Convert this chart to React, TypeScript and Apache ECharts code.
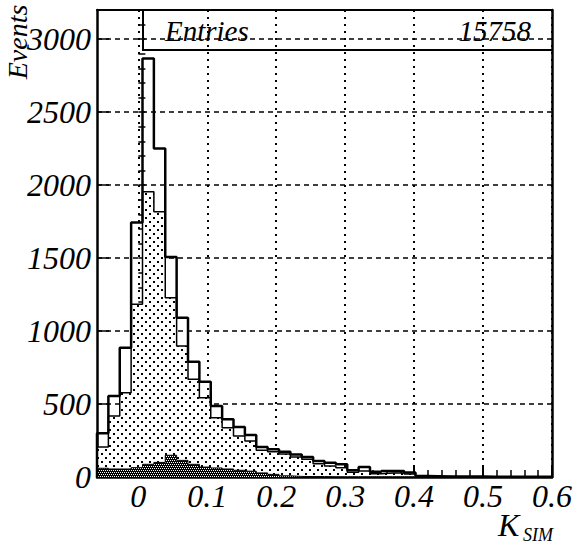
import React, { useEffect, useRef } from "react";
import * as echarts from "echarts";

// ---- data ----
const binStart = -0.06;
const binWidth = 0.0165;
const xMin = -0.06;
const xMax = 0.6;
const yMax = 3200;
const entries = 15758;

const xTickValues = [0, 0.1, 0.2, 0.3, 0.4, 0.5, 0.6];
const yTickValues = [0, 500, 1000, 1500, 2000, 2500, 3000];

// all events (open histogram)
const allEvents = [
  300, 555, 886, 1744, 2868, 2251, 1507, 1091, 790, 653,
  486, 395, 342, 288, 205, 190, 173, 155, 137, 110,
  98, 87, 46, 68, 36, 41, 41, 30, 6, 5,
  4, 4, 3, 3, 2, 2, 2, 1, 1, 1,
];
// selected events (dotted histogram)
const selectedEvents = [
  205, 418, 577, 1183, 1954, 1817, 1228, 897, 669, 543,
  406, 338, 281, 247, 183, 173, 157, 137, 121, 91,
  75, 64, 32, 41, 23, 27, 27, 21, 4, 3,
  3, 2, 2, 2, 1, 1, 1, 1, 0, 0,
];
// background (dark hatched histogram)
const backgroundEvents = [
  60, 55, 55, 64, 87, 100, 149, 114, 87, 68,
  62, 55, 46, 40, 28, 18, 8, 4, 3, 3,
  2, 2, 2, 2, 2, 2, 2, 2, 0, 0,
  0, 0, 0, 0, 0, 0, 0, 0, 0, 0,
];

const FONT = "Liberation Serif";

function stepData(vals: number[]) {
  const pts: number[][] = [[binStart, 0]];
  vals.forEach((v, i) => pts.push([binStart + i * binWidth, v]));
  const end = binStart + vals.length * binWidth;
  pts.push([end, vals[vals.length - 1]]);
  pts.push([end, 0]);
  return pts;
}

function makeDots() {
  const c = document.createElement("canvas");
  c.width = 8;
  c.height = 8;
  const ctx = c.getContext("2d")!;
  ctx.fillStyle = "#ffffff";
  ctx.fillRect(0, 0, 8, 8);
  ctx.fillStyle = "#000000";
  ctx.fillRect(1, 1, 2, 2);
  ctx.fillRect(5, 5, 2, 2);
  return c;
}

function makeHatch() {
  const c = document.createElement("canvas");
  c.width = 4;
  c.height = 4;
  const ctx = c.getContext("2d")!;
  ctx.fillStyle = "#000000";
  ctx.fillRect(0, 0, 4, 4);
  ctx.fillStyle = "#ffffff";
  ctx.fillRect(0, 0, 1, 1);
  ctx.fillRect(2, 0, 1, 1);
  ctx.fillRect(1, 2, 1, 1);
  ctx.fillRect(3, 2, 1, 1);
  return c;
}

const axisFont = {
  fontFamily: FONT,
  fontStyle: "italic",
  fontWeight: "normal",
  fontSize: 32,
  color: "#000",
};

export default function App() {
  const ref = useRef<HTMLDivElement>(null);

  useEffect(() => {
    document.body.style.margin = "0";
    if (!ref.current) return;
    const chart = echarts.init(ref.current, undefined, { renderer: "svg" });
    const dots = makeDots();
    const hatch = makeHatch();

    const option: any = {
      animation: false,
      backgroundColor: "#ffffff",
      textStyle: { fontFamily: FONT, fontStyle: "italic" },
      grid: { left: 97, right: 23, top: 10, bottom: 69 },
      xAxis: [
        {
          type: "value",
          min: xMin,
          max: xMax,
          position: "bottom",
          axisLine: { show: true, onZero: false, lineStyle: { color: "#000", width: 2.5 } },
          axisTick: {
            show: true,
            inside: true,
            length: 12,
            customValues: xTickValues,
            lineStyle: { color: "#000", width: 2 },
          },
          axisLabel: {
            show: true,
            customValues: xTickValues,
            margin: 3,
            ...axisFont,
            formatter: (v: number) => String(Math.round(v * 10) / 10),
          },
          splitLine: {
            show: true,
            lineStyle: { color: "#000", width: 2, type: [2, 5] },
          },
        },
        {
          type: "value",
          min: xMin,
          max: xMax,
          interval: 0.02,
          position: "bottom",
          axisLine: { show: false },
          axisTick: { show: true, inside: true, length: 7, lineStyle: { color: "#000", width: 1.5 } },
          axisLabel: { show: false },
          splitLine: { show: false },
        },
        {
          type: "value",
          min: xMin,
          max: xMax,
          position: "top",
          axisLine: { show: true, onZero: false, lineStyle: { color: "#000", width: 2 } },
          axisTick: { show: false },
          axisLabel: { show: false },
          splitLine: { show: false },
        },
      ],
      yAxis: [
        {
          type: "value",
          min: 0,
          max: yMax,
          interval: 500,
          position: "left",
          axisLine: { show: true, onZero: false, lineStyle: { color: "#000", width: 2.5 } },
          axisTick: { show: true, inside: true, length: 12, lineStyle: { color: "#000", width: 1.5 } },
          axisLabel: {
            show: true,
            showMaxLabel: false,
            margin: 6,
            ...axisFont,
            formatter: (v: number) => (yTickValues.includes(v) ? String(v) : ""),
          },
          splitLine: {
            show: true,
            lineStyle: { color: "#000", width: 1.5, type: [5, 4] },
          },
        },
        {
          type: "value",
          min: 0,
          max: yMax,
          interval: 100,
          position: "left",
          axisLine: { show: false },
          axisTick: { show: true, inside: true, length: 7, lineStyle: { color: "#000", width: 1.5 } },
          axisLabel: { show: false },
          splitLine: { show: false },
        },
        {
          type: "value",
          min: 0,
          max: yMax,
          position: "right",
          axisLine: { show: true, onZero: false, lineStyle: { color: "#000", width: 2.5 } },
          axisTick: { show: false },
          axisLabel: { show: false },
          splitLine: { show: false },
        },
      ],
      series: [
        {
          name: "selected",
          type: "line",
          step: "end",
          xAxisIndex: 0,
          yAxisIndex: 0,
          showSymbol: false,
          silent: true,
          z: 2,
          data: stepData(selectedEvents),
          lineStyle: { color: "#000", width: 1.5 },
          areaStyle: { color: { image: dots, repeat: "repeat", imageWidth: 8, imageHeight: 8 }, opacity: 1 },
        },
        {
          name: "background",
          type: "line",
          step: "end",
          xAxisIndex: 0,
          yAxisIndex: 0,
          showSymbol: false,
          silent: true,
          z: 3,
          data: stepData(backgroundEvents),
          lineStyle: { color: "#000", width: 1 },
          areaStyle: { color: { image: hatch, repeat: "repeat", imageWidth: 4, imageHeight: 4 }, opacity: 1 },
        },
        {
          name: "all",
          type: "line",
          step: "end",
          xAxisIndex: 0,
          yAxisIndex: 0,
          showSymbol: false,
          silent: true,
          z: 4,
          data: stepData(allEvents),
          lineStyle: { color: "#000", width: 2.5 },
        },
      ],
      graphic: [
        {
          type: "polyline",
          z: 10,
          shape: { points: [[143, 10], [143, 50], [552, 50]] },
          style: { stroke: "#000", lineWidth: 2, fill: null },
        },
        {
          type: "text",
          z: 10,
          x: 165,
          y: 31,
          style: {
            text: "Entries",
            font: `italic 29px ${FONT}`,
            fill: "#000",
            verticalAlign: "middle",
            align: "left",
          },
        },
        {
          type: "text",
          z: 10,
          x: 531,
          y: 31,
          style: {
            text: String(entries),
            font: `italic 29px ${FONT}`,
            fill: "#000",
            verticalAlign: "middle",
            align: "right",
          },
        },
        {
          type: "text",
          z: 10,
          x: 17,
          y: 42,
          rotation: Math.PI / 2,
          style: {
            text: "Events",
            font: `italic 28px ${FONT}`,
            fill: "#000",
            verticalAlign: "middle",
            align: "center",
          },
        },
        {
          type: "text",
          z: 10,
          x: 498,
          y: 525,
          style: {
            text: "K",
            font: `italic 32px ${FONT}`,
            fill: "#000",
            verticalAlign: "middle",
            align: "left",
          },
        },
        {
          type: "text",
          z: 10,
          x: 523,
          y: 535,
          style: {
            text: "SIM",
            font: `italic 18px ${FONT}`,
            fill: "#000",
            verticalAlign: "middle",
            align: "left",
          },
        },
      ],
    };
    chart.setOption(option);
    return () => chart.dispose();
  }, []);

  return <div ref={ref} style={{ width: 575, height: 546 }} />;
}
